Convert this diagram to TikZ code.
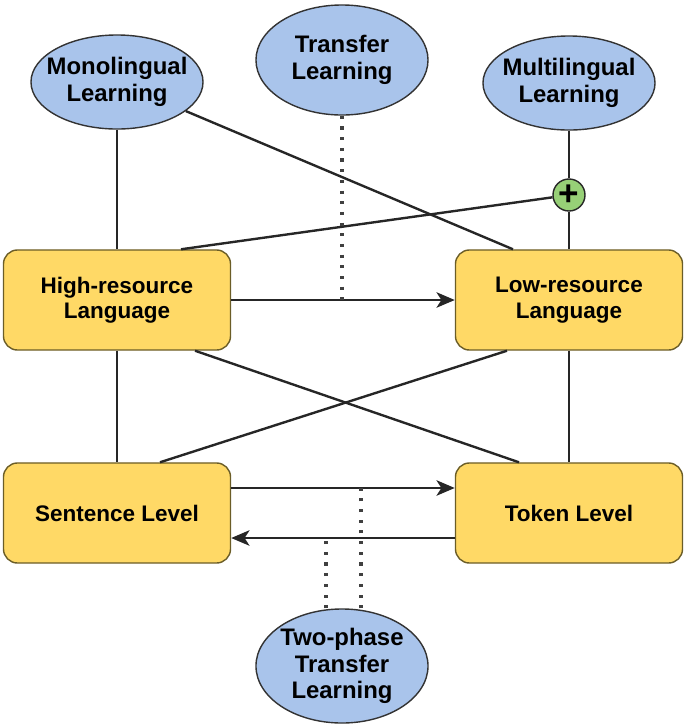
\documentclass[tikz,border=0pt]{standalone}
\usepackage{fontspec}
\setmainfont{Liberation Sans}
\usetikzlibrary{shapes.geometric,arrows.meta}
\definecolor{methodblue}{HTML}{A9C4EB}
\definecolor{levelyellow}{HTML}{FFD966}
\definecolor{levelline}{HTML}{6B5D27}
\definecolor{plusgreen}{HTML}{97D077}

\tikzset{
  method/.style={ellipse, draw=black!80, fill=methodblue, line width=1pt,
    minimum width=4.3cm, minimum height=2.35cm, inner xsep=-0.5cm, inner ysep=-0.15cm,
    align=center, font=\fontsize{17}{19}\selectfont\bfseries},
  level/.style={rectangle, rounded corners=0.35cm, draw=levelline, fill=levelyellow,
    line width=1pt, minimum width=5.675cm, minimum height=2.5cm,
    align=center, font=\fontsize{16}{18}\selectfont\bfseries},
  link/.style={line width=1.7pt, draw=black!85},
  hint/.style={line width=2.6pt, dash pattern=on 2.2pt off 5.4pt, draw=black!75},
}

\begin{document}
\begin{tikzpicture}[x=0.025cm, y=-0.025cm, >={Stealth[length=13pt,width=11pt,inset=3.5pt]}]
  \useasboundingbox (0,0) rectangle (685,726);

  % learning settings
  \node[method] (mono) at (117,82) {Monolingual\\Learning};
  \node[method, minimum height=2.75cm] (transfer) at (342,60) {Transfer\\Learning};
  \node[method] (multi) at (569,83) {Multilingual\\Learning};
  \node[method, minimum height=2.85cm] (twophase) at (342,666) {Two-phase\\Transfer\\Learning};

  % languages and levels
  \node[level] (high) at (117,300) {High-resource\\Language};
  \node[level] (low) at (569,300) {Low-resource\\Language};
  \node[level] (sent) at (117,513) {Sentence Level};
  \node[level] (token) at (569,513) {Token Level};

  \node[circle, draw=black!85, fill=plusgreen, line width=1pt, minimum size=0.8cm, inner sep=0pt,
    font=\fontsize{25}{25}\selectfont\bfseries] (plus) at (569,195) {+};

  \coordinate (fwd-s) at ([yshift=0.625cm]sent.east);
  \coordinate (fwd-t) at ([yshift=0.625cm]token.west);
  \coordinate (back-t) at ([yshift=-0.625cm]token.west);
  \coordinate (back-s) at ([yshift=-0.625cm]sent.east);

  \path[link]
    (mono) edge (high)
    (mono) edge ([xshift=-1.4cm]low.north)
    (multi) edge (plus)
    (plus) edge (low)
    (plus) edge ([xshift=1.6cm]high.north)
    (high) edge (sent)
    (low) edge (token)
    ([xshift=1.95cm]high.south) edge ([xshift=-1.25cm]token.north)
    ([xshift=-1.55cm]low.south) edge ([xshift=1.075cm]sent.north)
    ;
  \draw[link, ->] (high) -- (low);
  \draw[link, ->] (fwd-s) -- (fwd-t);
  \draw[link, ->] (back-t) -- (back-s);

  \draw[hint] (transfer) -- (transfer |- high);
  \draw[hint] ([xshift=0.475cm]twophase.north) -- ([xshift=0.475cm]twophase.north |- fwd-s);
  \draw[hint] ([xshift=-0.4cm]twophase.north) -- ([xshift=-0.4cm]twophase.north |- back-s);
\end{tikzpicture}
\end{document}
